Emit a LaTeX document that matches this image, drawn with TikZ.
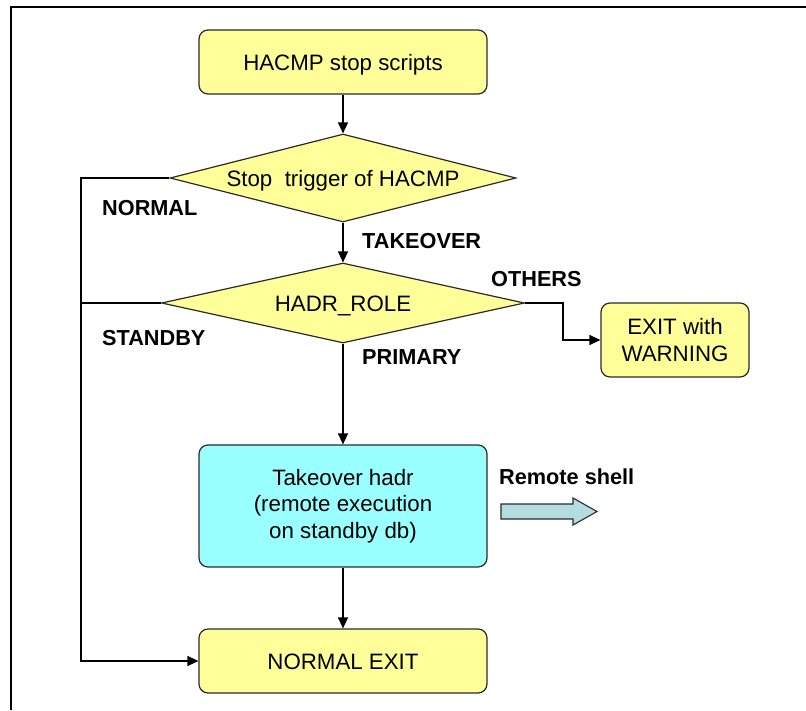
\documentclass[tikz,border=0pt]{standalone}
\usepackage{fontspec}
\setmainfont{Liberation Sans}
\usetikzlibrary{shapes.geometric,arrows.meta}
\definecolor{boxyellow}{HTML}{FFFF99}
\definecolor{boxcyan}{HTML}{99FFFF}
\definecolor{arrowfill}{HTML}{B4DDE2}
\definecolor{edgegray}{HTML}{2A2A2A}
\tikzset{
  procbox/.style={draw=edgegray, line width=1.2pt, rounded corners=9pt, fill=boxyellow, align=center, inner sep=0pt, font=\fontsize{22.3}{26.5}\selectfont},
  onebox/.style={procbox, text height=16pt, text depth=0pt},
  decbox/.style={draw=edgegray, line width=1.2pt, shape=diamond, fill=boxyellow, inner sep=0pt, text height=16pt, text depth=0pt, font=\fontsize{22.3}{26.5}\selectfont},
  lbl/.style={font=\fontsize{21.7}{25}\selectfont\bfseries, inner sep=0pt, anchor=west},
  flow/.style={line width=1.4pt, draw=black, -{Triangle[length=11pt,width=10pt]}},
  plain/.style={line width=1.4pt, draw=black}
}
\begin{document}
\begin{tikzpicture}[x=1pt,y=-1pt]
\useasboundingbox (0,0) rectangle (806,710);
\draw[line width=1.6pt] (11,710) -- (11,7) -- (806,7);

\node[onebox, minimum width=288pt, minimum height=64pt] (top) at (343,62) {HACMP stop scripts};
\node[decbox, aspect=3.93, minimum width=346pt, minimum height=88pt] (d1) at (343,178) {Stop\ \ trigger of HACMP};
\node[decbox, aspect=4.54, minimum width=363pt, minimum height=80pt] (d2) at (343,303) {HADR\_ROLE};
\node[procbox, minimum width=148pt, minimum height=74pt] (warn) at (675,340) {EXIT with\\WARNING};
\node[procbox, fill=boxcyan, minimum width=288pt, minimum height=122pt] (take) at (343,506) {Takeover hadr\\(remote execution\\on standby db)};
\node[onebox, minimum width=288pt, minimum height=64pt] (nexit) at (343,661) {NORMAL EXIT};

\coordinate (l1) at (81,178);
\coordinate (l2) at (81,303);
\coordinate (r2) at (563,303);

\draw[flow] (top.south) -- (d1.north);
\draw[flow] (d1.south) -- (d2.north);
\draw[flow] (d2.south) -- (take.north);
\draw[flow] (take.south) -- (nexit.north);
\draw[flow] (d1.west) -- (l1) |- (nexit.west);
\draw[plain] (d2.west) -- (l2);
\draw[flow] (d2.east) -- (r2) |- (warn.west);

\node[lbl] (lnormal) at (102,208) {NORMAL};
\node[lbl] (ltake) at (362,241) {TAKEOVER};
\node[lbl] (lothers) at (491,279) {OTHERS};
\node[lbl] (lstandby) at (102,338) {STANDBY};
\node[lbl] (lprimary) at (362,357) {PRIMARY};
\node[lbl] (lremote) at (499,477) {Remote shell};

\draw[draw=edgegray, line width=1.1pt, fill=arrowfill] (501,504) -- (573,504) -- (573,498) -- (597,511.5) -- (573,525) -- (573,519) -- (501,519) -- cycle;
\end{tikzpicture}
\end{document}
